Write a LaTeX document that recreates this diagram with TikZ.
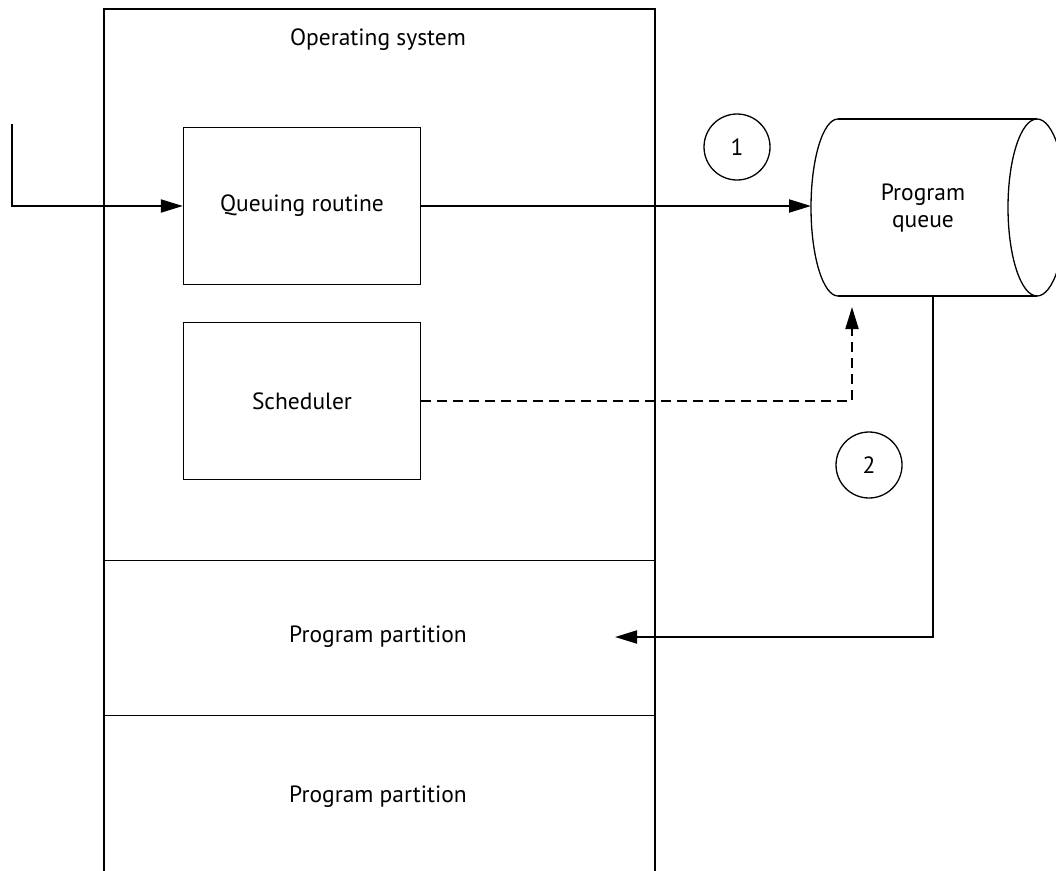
\documentclass[tikz,border=0pt]{standalone}
\usepackage{fontspec}
\setmainfont{PT Sans}
\usetikzlibrary{arrows.meta}
\begin{document}
\begin{tikzpicture}[x=1pt,y=1pt,
  every node/.style={font=\fontsize{23.5}{27}\selectfont},
  box/.style={draw,line width=1.3pt,minimum width=237pt,minimum height=157pt,inner sep=0pt},
  num/.style={draw,circle,line width=1.3pt,minimum size=66pt,inner sep=0pt},
  wall/.style={line width=2.2pt},
  arr/.style={line width=2pt,-{Triangle[length=22pt,width=13pt]}},
  dsh/.style={line width=2pt,dash pattern=on 10pt off 6pt,-{Triangle[length=22pt,width=13pt]}}
]
\useasboundingbox (0,0) rectangle (1056,-870);
% operating system column
\draw[wall] (104,-872) -- (104,-9) -- (655,-9) -- (655,-872);
\draw[line width=0.9pt] (104,-560) -- (655,-560);
\draw[line width=0.9pt] (104,-715) -- (655,-715);
\node (os) at (378,-40) {Operating system};
\node (p1) at (378,-637) {Program partition};
\node (p2) at (378,-797) {Program partition};
% boxes
\node[box] (q) at (302,-206) {Queuing routine};
\node[box] (s) at (302,-401) {Scheduler};
% circles
\node[num] (c1) at (737,-147) {1};
\node[num] (c2) at (869,-465) {2};
% cylinder
\draw[line width=1.3pt] (838,-119) -- (1037,-119);
\draw[line width=1.3pt] (838,-296) -- (1037,-296);
\draw[line width=1.3pt] (1037,-207.5) ellipse [x radius=29, y radius=88.5];
\draw[line width=1.3pt] (838,-119) arc[start angle=90, end angle=270, x radius=27, y radius=88.5];
\node[align=center] (pq) at (923,-208) {Program\\queue};
\coordinate (cylL) at (811,-206);
\coordinate (cylB) at (852,-307);
\coordinate (cylO) at (933,-296);
% connectors
\coordinate (in) at (12,-124);
\coordinate (pin) at (615,-637);
\draw[arr] (in) |- (q.west);
\draw[arr] (q.east) -- (cylL);
\draw[dsh] (s.east) -| (cylB);
\draw[arr] (cylO) |- (pin);
\end{tikzpicture}
\end{document}
